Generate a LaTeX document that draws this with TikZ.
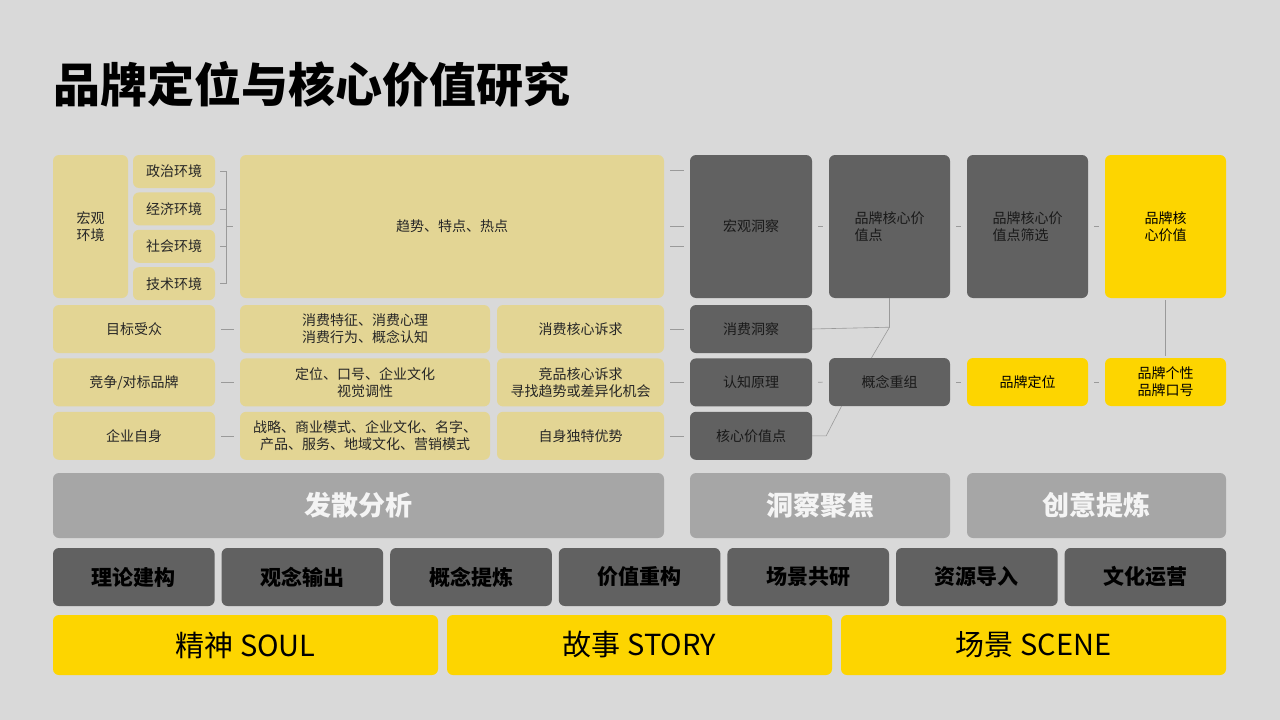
\documentclass[tikz,border=0pt]{standalone}
\usepackage{fontspec}
\setmainfont{Noto Sans CJK SC}
\usetikzlibrary{positioning}
\definecolor{bg}{HTML}{D9D9D9}
\definecolor{tan}{HTML}{E3D594}
\definecolor{dk}{HTML}{616161}
\definecolor{yel}{HTML}{FDD500}
\definecolor{mid}{HTML}{A6A6A6}
\definecolor{lnc}{HTML}{9A9A9A}

\begin{document}
\begin{tikzpicture}[x=1pt,y=-1pt,
    box/.style={rounded corners=6pt,inner sep=2pt,align=center,
                font=\fontsize{14}{17}\selectfont},
    tanbox/.style 2 args={box,fill=tan,text=black!85,minimum width=#1,minimum height=#2},
    dkbox/.style 2 args={box,fill=dk,text=black!90,minimum width=#1,minimum height=#2},
    yelbox/.style 2 args={box,fill=yel,text=black,minimum width=#1,minimum height=#2},
    bar/.style={rounded corners=6pt,fill=mid,text=white!88!mid,minimum height=65,
                font=\fontsize{27}{30}\selectfont\bfseries},
    dkrow/.style={rounded corners=6pt,fill=dk,text=black,minimum width=161.6,
                minimum height=58,font=\fontsize{21}{24}\selectfont\bfseries},
    yelrow/.style={rounded corners=6pt,fill=yel,text=black,minimum width=385,
                minimum height=60,font=\fontsize{29}{32}\selectfont},
    lnk/.style={draw=lnc,line width=0.6pt,shorten <=6pt,shorten >=6pt},
    br/.style={draw=lnc,line width=0.6pt}]

  \useasboundingbox[fill=bg] (0,0) rectangle (1280,720);

  \node[anchor=west,font=\fontsize{47}{50}\selectfont\bfseries] (title) at (50,84)
       {品牌定位与核心价值研究};

  % divergent analysis
  \node[tanbox={75}{143}]              (hgjz) at (90.5,226.5) {宏观\\环境};
  \node[tanbox={82}{33}]               (zz)   at (174,171.5)  {政治环境};
  \node[tanbox={82}{33},below=4pt of zz] (jj) {经济环境};
  \node[tanbox={82}{33},below=4pt of jj] (sh) {社会环境};
  \node[tanbox={82}{33},below=4pt of sh] (js) {技术环境};
  \node[tanbox={424}{143}]             (qs)   at (452,226.5)  {趋势、特点、热点};

  \node[tanbox={162}{48}]                (mb) at (134,329) {目标受众};
  \node[tanbox={162}{48},below=5pt of mb] (jz) {竞争/对标品牌};
  \node[tanbox={162}{48},below=5pt of jz] (qy) {企业自身};

  \node[tanbox={250}{48}]                  (xftz) at (365,329)
       {消费特征、消费心理\\消费行为、概念认知};
  \node[tanbox={250}{48},below=5pt of xftz] (dwkh)
       {定位、口号、企业文化\\视觉调性};
  \node[tanbox={250}{48},below=5pt of dwkh] (zlsy)
       {战略、商业模式、企业文化、名字、\\产品、服务、地域文化、营销模式};

  \node[tanbox={167}{48}]                  (xfsq) at (580.5,329) {消费核心诉求};
  \node[tanbox={167}{48},below=5pt of xfsq] (jpsq)
       {竞品核心诉求\\寻找趋势或差异化机会};
  \node[tanbox={167}{48},below=5pt of jpsq] (zsys) {自身独特优势};

  % insight focus
  \node[dkbox={122}{143}]                 (hgdc) at (751,226.5) {宏观洞察};
  \node[dkbox={122}{48}]                  (xfdc) at (751,329)   {消费洞察};
  \node[dkbox={122}{48},below=5pt of xfdc] (rzyl) {认知原理};
  \node[dkbox={122}{48},below=5pt of rzyl] (hxjz) {核心价值点};

  \node[dkbox={121}{143},align=left] (ppjz) at (889.5,226.5) {品牌核心价\\值点};
  \node[dkbox={121}{48}]             (gncz) at (889.5,382)   {概念重组};

  % creative refinement
  \node[dkbox={121}{143},align=left] (ppsx) at (1027.5,226.5) {品牌核心价\\值点筛选};
  \node[yelbox={121}{48}]            (ppdw) at (1027.5,382)   {品牌定位};
  \node[yelbox={121}{143},align=left] (pphx) at (1165.5,226.5) {品牌核\\心价值};
  \node[yelbox={121}{48}]            (ppgx) at (1165.5,382)   {品牌个性\\品牌口号};

  % connectors
  \draw[br] ([xshift=5pt]zz.east) -- ++(6,0) coordinate (bt)
            -- (bt |- js.east) -- ([xshift=5pt]js.east);
  \draw[br] ([xshift=5pt]jj.east) -- (bt |- jj.east);
  \draw[br] ([xshift=5pt]sh.east) -- (bt |- sh.east);
  \draw[br] (bt |- qs.west) -- ([xshift=-7pt]qs.west);

  \draw[lnk] (mb) -- (xftz);
  \draw[lnk] (jz) -- (dwkh);
  \draw[lnk] (qy) -- (zlsy);
  \draw[lnk] (xfsq) -- (xfdc);
  \draw[lnk] (jpsq) -- (rzyl);
  \draw[lnk] (zsys) -- (hxjz);
  \draw[lnk] ([yshift=56pt]qs.east) -- ([yshift=56pt]hgdc.west);
  \draw[lnk] (qs) -- (hgdc);
  \draw[lnk] ([yshift=-20pt]qs.east) -- ([yshift=-20pt]hgdc.west);

  \draw[lnk] (hgdc) -- (ppjz);
  \draw[lnk] (ppjz) -- (ppsx);
  \draw[lnk] (ppsx) -- (pphx);
  \draw[lnk] (rzyl) -- (gncz);
  \draw[lnk] (gncz) -- (ppdw);
  \draw[lnk] (ppdw) -- (ppgx);
  \draw[br,shorten <=2pt,shorten >=2pt] (pphx) -- (ppgx);

  \draw[br] (ppjz.south) -- ++(0,29) coordinate (kk) -- ([xshift=-18pt]gncz.north);
  \draw[br] (xfdc.east) -- (kk);
  \draw[br] (hxjz.east) -- ++(14,0) -- ([xshift=-48pt]gncz.south);

  % stages
  \node[bar,minimum width=611] (fsfx) at (358.5,505.5)  {发散分析};
  \node[bar,minimum width=260] (dcjj) at (820,505.5)    {洞察聚焦};
  \node[bar,minimum width=259] (cytl) at (1096.5,505.5) {创意提炼};

  \foreach \t [count=\i] in {理论建构,观念输出,概念提炼,价值重构,场景共研,资源导入,文化运营}
    \node[dkrow] (m\i) at ({133.8+(\i-1)*168.6},577) {\t};

  \foreach \t [count=\i] in {精神 SOUL,故事 STORY,场景 SCENE}
    \node[yelrow] (y\i) at ({245.5+(\i-1)*394},645) {\t};
\end{tikzpicture}
\end{document}
